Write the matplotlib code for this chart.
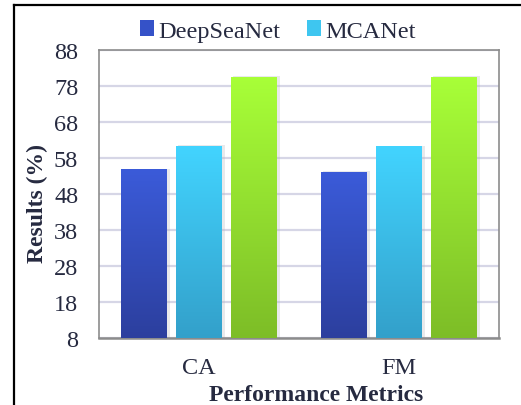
import numpy as np
import matplotlib.pyplot as plt
from matplotlib.colors import LinearSegmentedColormap
from matplotlib.patches import Patch, Rectangle
from matplotlib.lines import Line2D

# 性能指標ごとの結果(%)
metrics = ["CA", "FM"]
deepseanet = [54.7, 54.1]
mcanet = [61.3, 61.1]
ours = [80.5, 80.5]
series_names = ["DeepSeaNet", "MCANet"]

# グラデーション(下→上)
grad_colors = [("#2c3f9e", "#3b5bd9"), ("#33a0ca", "#42d4ff"), ("#7dbd27", "#a8ff38")]
text_color = "#262a40"

plt.rcParams['font.family'] = ['Liberation Serif', 'DejaVu Serif']

fig = plt.figure(figsize=(5.21, 4.06), dpi=100, facecolor='white')
ax = fig.add_axes([99/521, 1-339/406, 400/521, 288/406])

YMIN, YMAX = 8, 88
width = 0.228
step = 0.275
x = np.arange(len(metrics))

for i, vals in enumerate([deepseanet, mcanet, ours]):
    cmap = LinearSegmentedColormap.from_list("g%d" % i, grad_colors[i])
    grad = np.linspace(0, 1, 256).reshape(-1, 1)
    for xi, v in zip(x, vals):
        x0 = xi + (i-1)*step - width/2
        # うっすら影
        ax.add_patch(Rectangle((x0+0.008, YMIN), width+0.006, v-YMIN+0.3,
                               color='#b8b8c0', alpha=0.3, lw=0, zorder=2))
        ax.imshow(grad, cmap=cmap, origin='lower', aspect='auto',
                  extent=[x0, x0+width, YMIN, v], zorder=3)

ax.set_xlim(-0.5, 1.5)
ax.set_ylim(YMIN, YMAX)
ax.set_yticks(np.arange(8, 89, 10))
ax.set_xticks(x)
ax.set_xticklabels(metrics)
ax.yaxis.grid(True, color='#d6d6e6', lw=1.6, zorder=1)
ax.set_axisbelow(True)
ax.tick_params(length=0, labelsize=17.5, colors=text_color)
ax.tick_params(axis='y', pad=15)
ax.tick_params(axis='x', pad=14)
for s in ax.spines.values():
    s.set_color('#8c8c8c')
    s.set_linewidth(1.2)
ax.spines['bottom'].set_linewidth(1.8)

ax.set_ylabel("Results (%)", fontsize=17, fontweight='bold', color=text_color)
ax.yaxis.set_label_coords(-0.128, 0.469)
ax.set_xlabel("Performance Metrics", fontsize=17, fontweight='bold', color=text_color)
ax.xaxis.set_label_coords(0.542, -0.16)

handles = [Patch(facecolor="#3552c8", edgecolor='none'),
           Patch(facecolor="#3ec6f0", edgecolor='none')]
fig.legend(handles, series_names, loc='center', bbox_to_anchor=(0.533, 0.921),
           ncol=2, frameon=False, fontsize=17.5, handlelength=0.6, handleheight=0.6,
           handletextpad=0.15, columnspacing=1.1, labelcolor=text_color)

# 外枠(左と上)
fig.add_artist(Line2D([14/521, 14/521], [0, 1-6/406], color='black', lw=1.6))
fig.add_artist(Line2D([14/521, 1], [1-6/406, 1-6/406], color='black', lw=1.6))

fig.savefig("out.png", dpi=100)
